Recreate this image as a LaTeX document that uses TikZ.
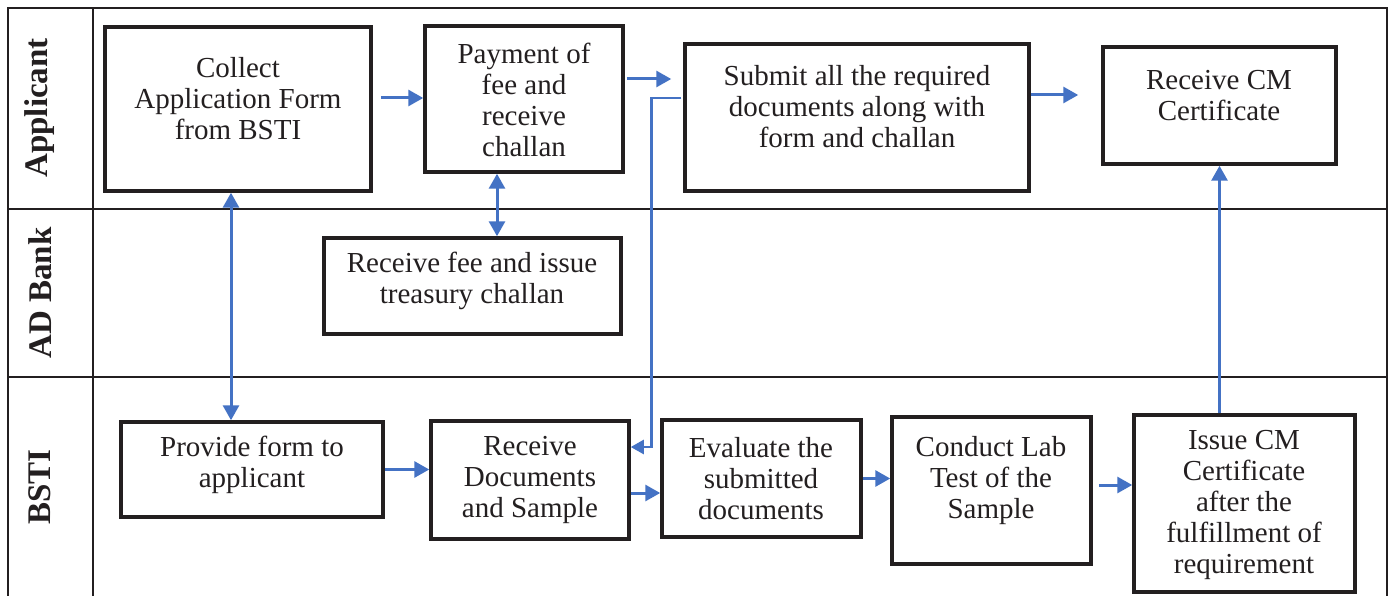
\documentclass[tikz,border=0pt]{standalone}
\usepackage{fontspec}
\setmainfont{Liberation Serif}
\usetikzlibrary{arrows.meta,calc}
\definecolor{arrblue}{HTML}{4472C4}
\definecolor{boxline}{HTML}{231F20}
\begin{document}
\begin{tikzpicture}[x=1pt,y=-1pt,
  lane/.style={line width=2pt,draw=boxline},
  stepbox/.style={draw=boxline,line width=3.5pt,inner sep=0pt,fill=white},
  txt/.style={align=center,font=\fontsize{29}{31}\selectfont,text=boxline,inner sep=0pt},
  lanelbl/.style={rotate=90,font=\fontsize{33}{35}\selectfont\bfseries,text=boxline,inner sep=0pt},
  arr/.style={draw=arrblue,line width=3pt,-{Triangle[length=15pt,width=16pt]}},
  darr/.style={draw=arrblue,line width=3pt,{Triangle[length=15pt,width=16pt]}-{Triangle[length=15pt,width=16pt]}},
  arrthin/.style={draw=arrblue,line width=2.5pt,-{Triangle[length=13pt,width=14pt]}}]
\useasboundingbox (0,0) rectangle (1394,596);
\fill[white] (0,0) rectangle (1394,596);
% lanes
\draw[lane] (8,600) -- (8,8) -- (1387,8) -- (1387,600);
\draw[lane] (93,8) -- (93,600);
\draw[lane] (8,209) -- (1387,209);
\draw[lane] (8,377) -- (1387,377);
\node[lanelbl] (l1) at (40,108) {Applicant};
\node[lanelbl] (l2) at (40,293) {AD Bank};
\node[lanelbl] (l3) at (40,487) {BSTI};
% boxes
\node[stepbox,minimum width=266pt,minimum height=164pt] (c1) at (238,109) {};
\node[stepbox,minimum width=198pt,minimum height=146pt] (c2) at (524,99) {};
\node[stepbox,minimum width=344pt,minimum height=147pt] (c3) at (857,117.5) {};
\node[stepbox,minimum width=233pt,minimum height=117pt] (c4) at (1219.5,105.5) {};
\node[stepbox,minimum width=297pt,minimum height=96pt] (c5) at (472.5,286) {};
\node[stepbox,minimum width=262pt,minimum height=95pt] (c6) at (252,469.5) {};
\node[stepbox,minimum width=198pt,minimum height=118pt] (c7) at (530,480) {};
\node[stepbox,minimum width=199pt,minimum height=117pt] (c8) at (761.5,478.5) {};
\node[stepbox,minimum width=199pt,minimum height=147pt] (c9) at (991.5,490.5) {};
\node[stepbox,minimum width=221pt,minimum height=177pt] (c10) at (1244.5,503.5) {};
% texts
\node[txt] (t1) at (238,99) {Collect\\Application Form\\from BSTI};
\node[txt] (t2) at (524,100) {Payment of\\fee and\\receive\\challan};
\node[txt] (t3) at (857,107) {Submit all the required\\documents along with\\form and challan};
\node[txt] (t4) at (1219,96) {Receive CM\\Certificate};
\node[txt] (t5) at (472,281) {Receive fee and issue\\treasury challan};
\node[txt] (t6) at (252,465) {Provide form to\\applicant};
\node[txt] (t7) at (530,480) {Receive\\Documents\\and Sample};
\node[txt] (t8) at (761,479) {Evaluate the\\submitted\\documents};
\node[txt] (t9) at (991,481) {Conduct Lab\\Test of the\\Sample};
\node[txt] (t10) at (1244,505) {Issue CM\\Certificate\\after the\\fulfillment of\\requirement};
% connectors
\draw[arr] ($(c1.east |- c2.west)+(8,-1)$) -- ($(c2.west)+(0,-1)$);
\draw[arr] ($(c2.east)+(2,-20)$) -- ($(c3.west |- c2.east)+(-12,-20)$);
\draw[arr] ($(c3.east)+(0,-22.5)$) -- ($(c4.west |- c3.east)+(-23,-22.5)$);
\draw[arr] (c10.north -| c4.south) -- (c4.south);
\draw[darr] ($(c1.south)+(-7,0)$) -- ($(c6.north -| c1.south)+(-7,0)$);
\draw[darr] ($(c2.south)+(-27,0)$) -- ($(c5.north -| c2.south)+(-27,0)$);
\draw[arrthin] ($(c3.west)+(-2,-19.5)$) -- ++(-30,0) |- ($(c7.east)+(0,-33)$);
\draw[arr] (c6.east) -- (c6.east -| c7.west);
\draw[arr] ($(c7.east)+(0,13)$) -- ($(c8.west |- c7.east)+(0,13)$);
\draw[arr] (c8.east) -- (c8.east -| c9.west);
\draw[arr] ($(c9.east)+(6,-5.5)$) -- ($(c10.west |- c9.east)+(0,-5.5)$);
\end{tikzpicture}
\end{document}
